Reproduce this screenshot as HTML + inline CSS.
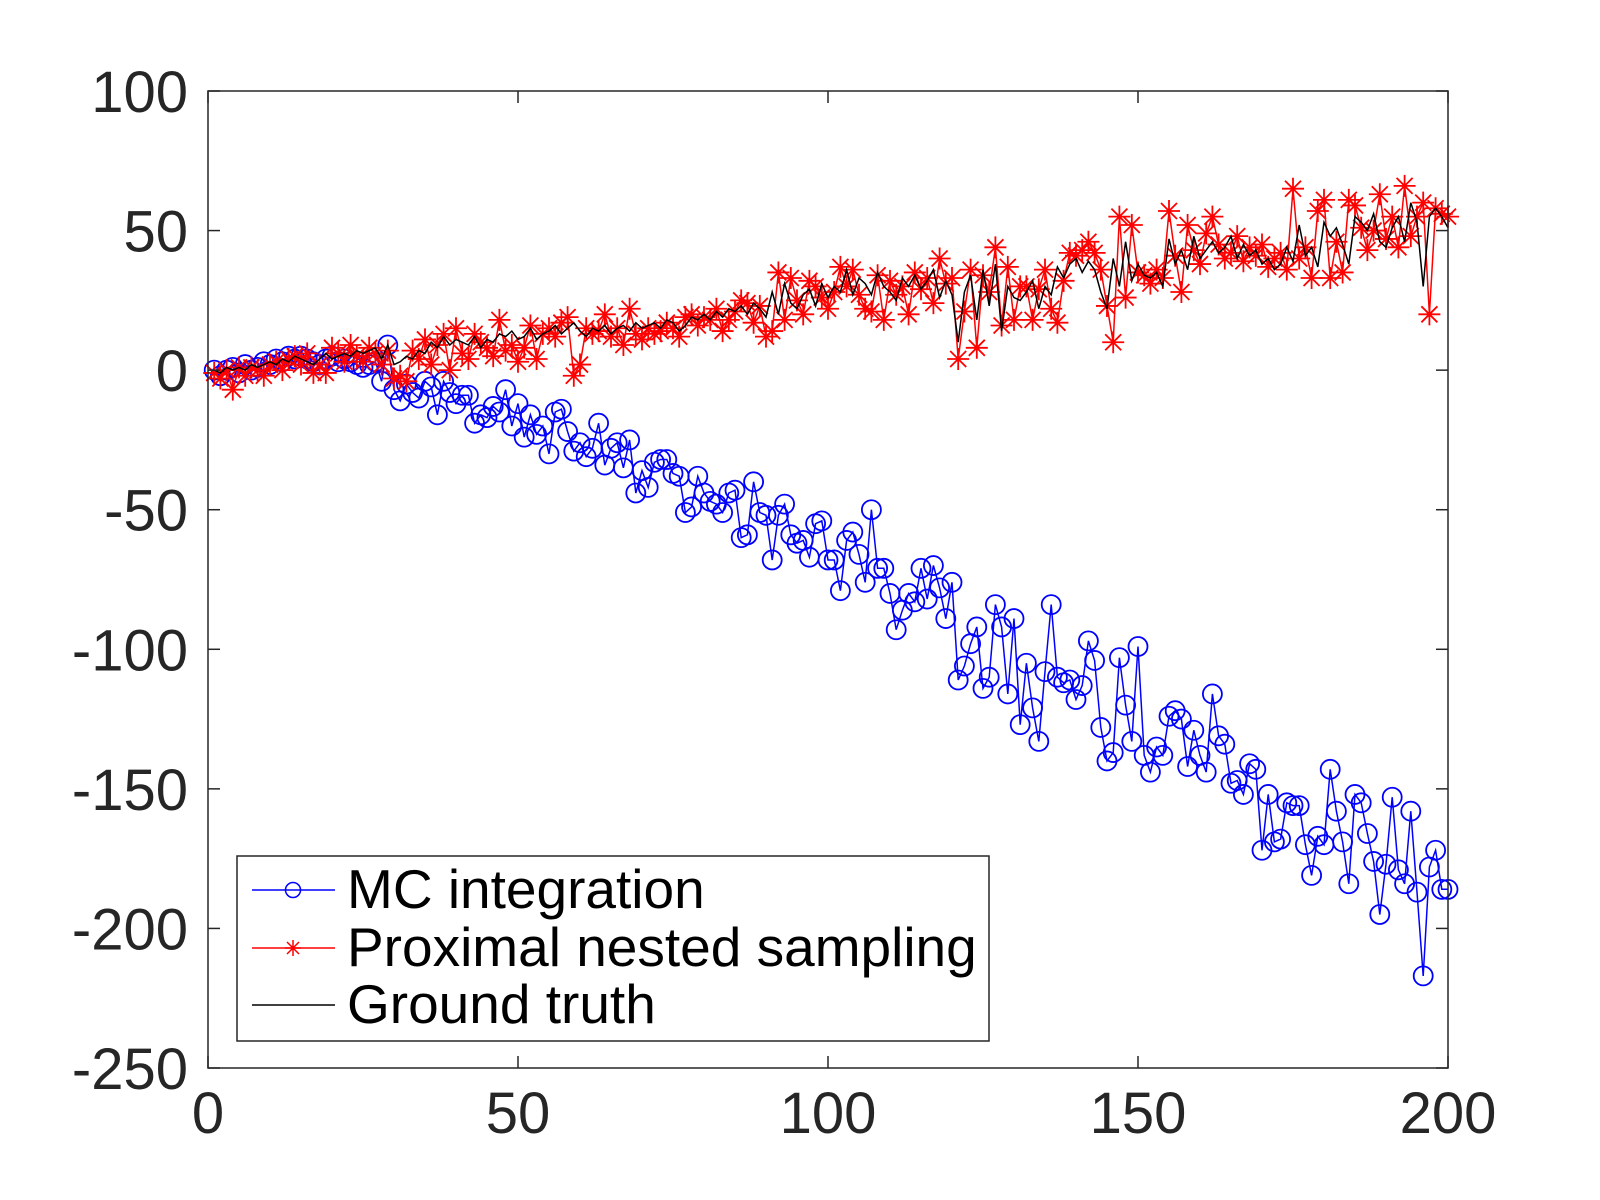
<!DOCTYPE html>
<html><head><meta charset="utf-8"><style>
html,body{margin:0;padding:0;background:#fff;}
svg{display:block;font-family:"Liberation Sans",Arial,sans-serif;}
</style></head><body>
<svg id="chart" width="1600" height="1200" viewBox="0 0 1600 1200" xmlns="http://www.w3.org/2000/svg">
<rect x="0" y="0" width="1600" height="1200" fill="#fff"/>
<g id="grid"></g>
<g id="series"></g>
<rect x="208" y="91" width="1240" height="977" fill="none" stroke="#262626" stroke-width="1.5"/>
<g id="ticks"></g>
<g>
<rect x="237" y="856" width="752" height="185" fill="#fff" stroke="#262626" stroke-width="1.5"/>
<g>
<line x1="252" y1="890" x2="335" y2="890" stroke="#0000ff" stroke-width="1.5"/>
<circle cx="293" cy="890" r="7.5" fill="none" stroke="#0000ff" stroke-width="1.5"/>
<text x="347" y="908" font-size="55" fill="#000">MC integration</text>
</g>
<g>
<line x1="252" y1="948" x2="335" y2="948" stroke="#ff0000" stroke-width="1.5"/>
<path d="M285,948h16M293,940v16M287,942l12,12M299,942l-12,12" stroke="#ff0000" stroke-width="1.5"/>
<text x="347" y="966" font-size="55" fill="#000">Proximal nested sampling</text>
</g>
<g>
<line x1="252" y1="1005" x2="335" y2="1005" stroke="#000" stroke-width="1.5"/>
<text x="347" y="1023" font-size="55" fill="#000">Ground truth</text>
</g>
</g>
</svg>
<script>
const xTicks=[0,50,100,150,200];
const yTicks=[100,50,0,-50,-100,-150,-200,-250];
const mcValues=[0,-2,0,1,-1,2,0,1,3,2,4,3,5,4,5,4,3,2,4,5,3,4,3,2,1,2,3,-4,9,-7,-11,-5,-8,-10,-4,-6,-16,-4,-8,-12,-9,-9,-19,-16,-17,-13,-15,-7,-20,-12,-24,-16,-23,-20,-30,-15,-14,-22,-29,-26,-31,-28,-19,-34,-28,-26,-35,-25,-44,-36,-42,-33,-32,-32,-37,-38,-51,-49,-38,-44,-47,-48,-51,-44,-43,-60,-59,-40,-51,-52,-68,-52,-48,-59,-62,-61,-67,-55,-54,-68,-68,-79,-61,-58,-66,-76,-50,-71,-71,-80,-93,-86,-80,-83,-71,-82,-70,-78,-89,-76,-111,-106,-98,-92,-114,-110,-84,-92,-116,-89,-127,-105,-121,-133,-108,-84,-110,-112,-111,-118,-113,-97,-104,-128,-140,-137,-103,-120,-133,-99,-138,-144,-135,-138,-124,-122,-125,-142,-129,-138,-144,-116,-131,-134,-148,-147,-152,-141,-143,-172,-152,-169,-168,-155,-156,-156,-170,-181,-167,-170,-143,-158,-169,-184,-152,-155,-166,-176,-195,-177,-153,-179,-184,-158,-187,-217,-178,-172,-186,-186];
const pnsValues=[-1,-3,0,-7,1,-2,1,0,-2,2,3,0,4,5,2,6,-1,2,-1,8,6,3,9,5,3,8,6,2,7,-3,-2,-4,7,4,11,2,9,13,0,15,6,4,13,10,8,5,18,7,9,3,8,16,4,13,15,12,17,19,-2,2,15,13,14,20,12,15,9,22,13,11,15,13,14,17,15,12,19,20,16,19,18,22,14,18,21,25,24,17,23,12,14,35,18,33,25,20,32,30,26,22,28,37,30,36,27,22,21,34,18,32,27,30,20,35,29,33,24,40,31,33,4,21,36,8,34,28,44,16,37,18,30,30,18,29,36,22,17,32,42,41,43,46,42,36,23,10,55,26,52,35,34,31,36,33,57,41,28,52,43,38,49,55,45,40,42,48,39,44,41,45,37,40,42,36,65,40,44,33,57,61,33,46,35,61,59,51,43,50,63,47,55,44,66,48,55,60,20,58,56,55];
const truthValues=[0,-1,1,0,1,0,2,1,2,3,2,4,3,5,4,3,2,4,6,4,5,6,5,7,6,7,8,4,9,2,3,5,4,7,6,10,8,12,9,11,10,9,12,8,11,10,13,12,14,11,12,15,11,13,14,16,13,15,17,14,12,15,14,16,13,15,16,14,17,15,16,17,15,18,17,14,16,19,18,20,18,21,19,22,21,23,20,24,22,19,28,20,31,24,22,27,29,23,31,26,30,28,36,27,33,31,27,35,30,28,25,33,30,34,29,32,36,26,32,27,10,28,34,18,36,23,38,14,30,26,25,28,32,22,30,27,37,33,38,40,35,39,36,28,22,40,30,46,32,38,34,33,35,30,47,38,43,36,48,40,43,46,42,44,48,40,45,41,43,38,40,36,38,44,39,52,41,44,37,53,48,51,45,38,55,53,50,56,46,44,51,55,46,60,53,30,55,58,55,51];

const NS='http://www.w3.org/2000/svg';
const X0=208,X1=1448,Y0=91,Y1=1068;
function xs(v){return X0+(v-0)/(200-0)*(X1-X0);}
function ys(v){return Y0+(100-v)/(100-(-250))*(Y1-Y0);}
function mk(tag,attrs,parent){const e=document.createElementNS(NS,tag);for(const k in attrs)e.setAttribute(k,attrs[k]);parent.appendChild(e);return e;}

const ticks=document.getElementById('ticks');
xTicks.forEach(t=>{
  const x=xs(t);
  const l1=mk('line',{x1:x,y1:Y1,x2:x,y2:Y1-12,stroke:'#262626','stroke-width':1.5},ticks);
  
  
  mk('line',{x1:x,y1:Y0,x2:x,y2:Y0+12,stroke:'#262626','stroke-width':1.5},ticks);
  const tx=mk('text',{x:x,y:1133,'font-size':58,'text-anchor':'middle',fill:'#262626'},ticks);
  tx.textContent=t;
  
  
});
yTicks.forEach(t=>{
  const y=ys(t);
  const l1=mk('line',{x1:X0,y1:y,x2:X0+12,y2:y,stroke:'#262626','stroke-width':1.5},ticks);
  
  
  mk('line',{x1:X1,y1:y,x2:X1-12,y2:y,stroke:'#262626','stroke-width':1.5},ticks);
  const tx=mk('text',{x:188,y:y+21,'font-size':58,'text-anchor':'end',fill:'#262626'},ticks);
  tx.textContent=t;
  
  
});

const series=document.getElementById('series');
function xi(i,n){return xs(1+i*(199/(n-1)));}
function pts(arr){return arr.map((v,i)=>xi(i,arr.length).toFixed(1)+','+ys(v).toFixed(1)).join(' ');}

const mcG=mk('g',{},series);


mk('polyline',{points:pts(mcValues),fill:'none',stroke:'#0000ff','stroke-width':1.5},mcG);
mcValues.forEach((v,i)=>{
  const c=mk('circle',{cx:xi(i,mcValues.length),cy:ys(v),r:9.5,fill:'none',stroke:'#0000ff','stroke-width':1.8},mcG);
  
  
});

const pG=mk('g',{},series);


mk('polyline',{points:pts(pnsValues),fill:'none',stroke:'#ff0000','stroke-width':1.5},pG);
pnsValues.forEach((v,i)=>{
  const x=xi(i,pnsValues.length),y=ys(v),s=11,d=8;
  const p=mk('path',{d:`M${x-s},${y}h${2*s}M${x},${y-s}v${2*s}M${x-d},${y-d}l${2*d},${2*d}M${x+d},${y-d}l${-2*d},${2*d}`,stroke:'#ff0000','stroke-width':1.8,fill:'none'},pG);
  
  
});

const tG=mk('g',{},series);


const tl=mk('polyline',{points:pts(truthValues),fill:'none',stroke:'#000','stroke-width':1.5},tG);


</script>
</body></html>
